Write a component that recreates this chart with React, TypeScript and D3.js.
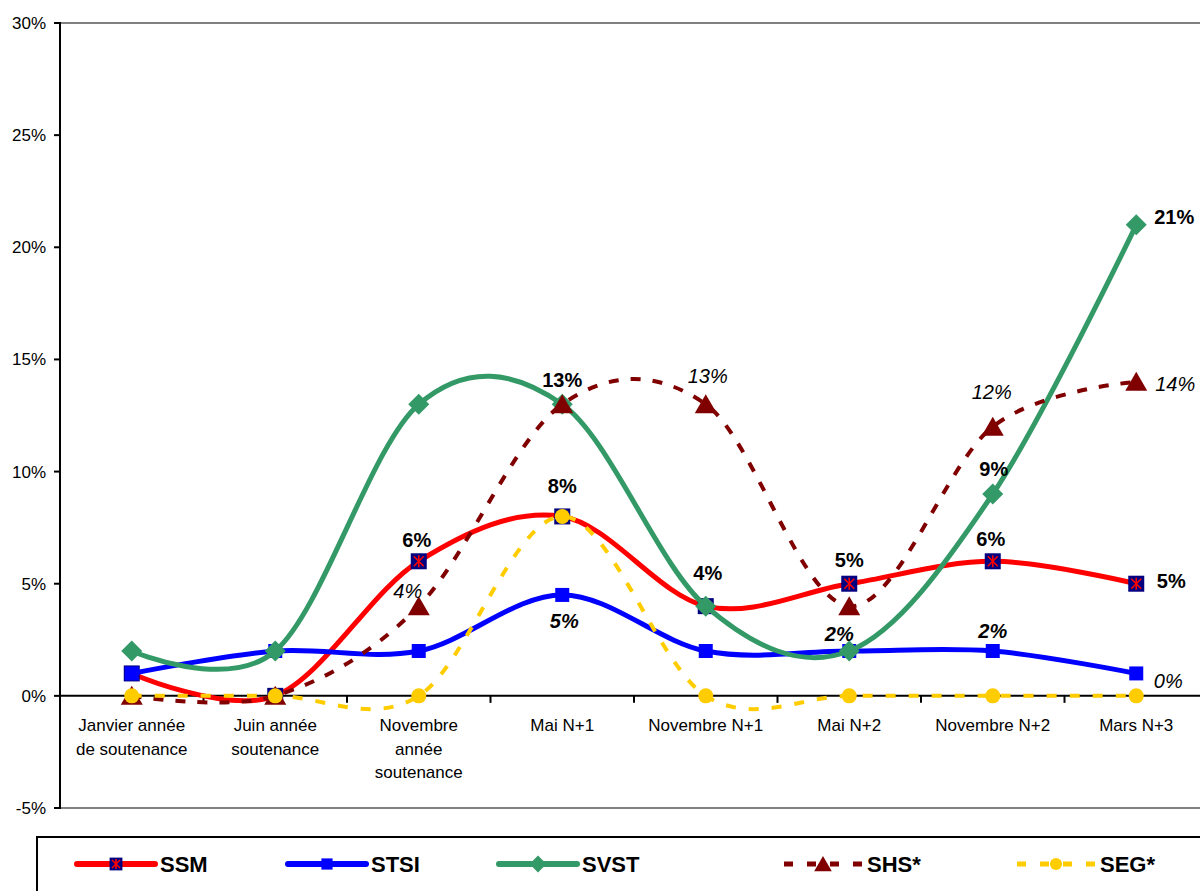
import React from "react";
import * as d3 from "d3";

// catégories (axe X), une ligne par élément
const categories: string[][] = [
  ["Janvier année", "de soutenance"],
  ["Juin année", "soutenance"],
  ["Novembre", "année", "soutenance"],
  ["Mai N+1"],
  ["Novembre N+1"],
  ["Mai N+2"],
  ["Novembre N+2"],
  ["Mars N+3"],
];

const ssm = [1, 0, 6, 8, 4, 5, 6, 5];
const stsi = [1, 2, 2, 4.5, 2, 2, 2, 1];
const svst = [2, 2, 13, 13, 4, 2, 9, 21];
const shs = [0, 0, 4, 13, 13, 4, 12, 14];
const seg = [0, 0, 0, 8, 0, 0, 0, 0];

const ssmLabels = [null, null, "6%", "8%", null, "5%", "6%", "5%"];
const stsiLabels = [null, null, null, "5%", null, "2%", "2%", null];
const svstLabels = [null, null, null, "13%", "4%", null, "9%", "21%"];
const shsLabels = [null, null, "4%", null, "13%", null, "12%", "14%"];
const segLabels = [null, null, null, null, null, null, null, "0%"];

const yTicks = [-5, 0, 5, 10, 15, 20, 25, 30];

// décalages des étiquettes (dx, dy) par rapport au point
const ssmOffsets = [null, null, [-2, -21], [0, -30], null, [0, -24], [-2, -22], [35, -3]];
const stsiOffsets = [null, null, null, [2, 26], null, [-10, -17], [0, -20], null];
const svstOffsets = [null, null, null, [0, -24], [2, -33], null, [1, -25], [38, -8]];
const shsOffsets = [null, null, [-11, -15], null, [2, -28], null, [-1, -35], [39, 2]];
const segOffsets = [null, null, null, null, null, null, null, [32, -15]];

type Marker = "asterisk" | "square" | "diamond" | "triangle" | "circle";

interface Serie {
  name: string;
  values: number[];
  labels: (string | null)[];
  offsets: (number[] | null)[];
  color: string;
  dash?: string;
  width: number;
  marker: Marker;
  weight: string;
  style: string;
}

const series: Serie[] = [
  { name: "SSM", values: ssm, labels: ssmLabels, offsets: ssmOffsets, color: "#FF0000", width: 5, marker: "asterisk", weight: "bold", style: "normal" },
  { name: "STSI", values: stsi, labels: stsiLabels, offsets: stsiOffsets, color: "#0000FF", width: 5, marker: "square", weight: "bold", style: "italic" },
  { name: "SVST", values: svst, labels: svstLabels, offsets: svstOffsets, color: "#339966", width: 5, marker: "diamond", weight: "bold", style: "normal" },
  { name: "SHS*", values: shs, labels: shsLabels, offsets: shsOffsets, color: "#800000", dash: "10 12", width: 4, marker: "triangle", weight: "normal", style: "italic" },
  { name: "SEG*", values: seg, labels: segLabels, offsets: segOffsets, color: "#FFCC00", dash: "10 13", width: 4, marker: "circle", weight: "normal", style: "italic" },
];

const legendX = [77, 288, 499, 784, 1017];

const FONT = "'Liberation Sans', Arial, sans-serif";

function MarkerShape({ type, color, s = 1 }: { type: Marker; color: string; s?: number }) {
  if (type === "asterisk") {
    const h = 8 * s;
    const a = 5 * s;
    return (
      <g>
        <rect x={-h} y={-h} width={2 * h} height={2 * h} fill="#000080" />
        <g stroke="#FF0000" strokeWidth={1.6}>
          <line x1={-a} y1={-a} x2={a} y2={a} />
          <line x1={-a} y1={a} x2={a} y2={-a} />
          <line x1={0} y1={-a - 1} x2={0} y2={a + 1} />
        </g>
      </g>
    );
  }
  if (type === "square") {
    const h = 7 * s;
    return <rect x={-h} y={-h} width={2 * h} height={2 * h} fill={color} />;
  }
  if (type === "diamond") {
    const h = 10.5 * s;
    return <path d={`M0,${-h}L${h},0L0,${h}L${-h},0Z`} fill={color} />;
  }
  if (type === "triangle") {
    const w = 11 * s;
    return <path d={`M0,${-10 * s}L${w},${9 * s}L${-w},${9 * s}Z`} fill={color} />;
  }
  return <circle r={7.5 * s} fill={color} />;
}

export default function App() {
  const width = 1200;
  const height = 891;

  const x = d3
    .scaleBand<number>()
    .domain(d3.range(categories.length))
    .range([60, 1208]);
  const cx = (i: number) => (x(i) as number) + x.bandwidth() / 2;

  const y = d3.scaleLinear().domain([-5, 30]).range([808, 23]);

  const line = (vals: number[]) =>
    d3
      .line<number>()
      .x((_, i) => cx(i))
      .y((d) => y(d))
      .curve(d3.curveCardinal.tension(0))(vals) as string;

  const boundaries = d3.range(categories.length + 1).map((i) => 60 + i * x.bandwidth());

  return (
    <svg
      width={width}
      height={height}
      style={{ position: "absolute", left: 0, top: 0, background: "#fff" }}
      fontFamily={FONT}
    >
      {/* cadre de la zone de tracé */}
      <line x1={60} x2={width} y1={y(30)} y2={y(30)} stroke="#808080" strokeWidth={2} />
      <line x1={60} x2={width} y1={y(-5)} y2={y(-5)} stroke="#808080" strokeWidth={2} />

      {/* axe Y */}
      <line x1={60} x2={60} y1={y(30) - 1} y2={y(-5) + 1} stroke="#000" strokeWidth={2} />
      {yTicks.map((t) => (
        <g key={t}>
          <line x1={54} x2={60} y1={y(t)} y2={y(t)} stroke="#000" strokeWidth={2} />
          <text x={46} y={y(t)} dy="0.35em" textAnchor="end" fontSize={17} fill="#000">
            {t}%
          </text>
        </g>
      ))}

      {/* axe X */}
      <line x1={60} x2={width} y1={y(0)} y2={y(0)} stroke="#000" strokeWidth={2} />
      {boundaries.map((b, i) => (
        <line key={i} x1={b} x2={b} y1={y(0)} y2={y(0) + 7} stroke="#000" strokeWidth={2} />
      ))}
      {categories.map((lines, i) => (
        <text key={i} x={cx(i)} y={731} textAnchor="middle" fontSize={17} fill="#000">
          {lines.map((l, j) => (
            <tspan key={j} x={cx(i)} dy={j === 0 ? 0 : 23.5}>
              {l}
            </tspan>
          ))}
        </text>
      ))}

      {/* séries */}
      {series.map((s) => (
        <g key={s.name}>
          <path
            d={line(s.values)}
            fill="none"
            stroke={s.color}
            strokeWidth={s.width}
            strokeDasharray={s.dash}
            strokeLinejoin="round"
          />
          {s.values.map((v, i) => (
            <g key={i} transform={`translate(${cx(i)},${y(v)})`}>
              <MarkerShape type={s.marker} color={s.color} />
            </g>
          ))}
        </g>
      ))}

      {/* étiquettes */}
      {series.map((s) =>
        s.labels.map((lab, i) => {
          const off = s.offsets[i];
          if (!lab || !off) return null;
          return (
            <text
              key={s.name + i}
              x={cx(i) + off[0]}
              y={y(s.values[i]) + off[1]}
              dy="0.35em"
              textAnchor="middle"
              fontSize={20}
              fontWeight={s.weight}
              fontStyle={s.style}
              fill="#000"
            >
              {lab}
            </text>
          );
        })
      )}

      {/* légende */}
      <rect x={37} y={837} width={1200} height={100} fill="#fff" stroke="#000" strokeWidth={2} />
      {series.map((s, k) => {
        const lx = legendX[k];
        const ly = 864;
        return (
          <g key={s.name}>
            <line
              x1={lx}
              x2={lx + 78}
              y1={ly}
              y2={ly}
              stroke={s.color}
              strokeWidth={s.width + 1}
              strokeDasharray={s.dash ? "9 14" : undefined}
              strokeLinecap={s.dash ? "butt" : "round"}
            />
            <g transform={`translate(${lx + 39},${ly})`}>
              <MarkerShape type={s.marker} color={s.color} s={0.8} />
            </g>
            <text x={lx + 83} y={ly} dy="0.36em" fontSize={22} fontWeight="bold" fill="#000">
              {s.name}
            </text>
          </g>
        );
      })}
    </svg>
  );
}
